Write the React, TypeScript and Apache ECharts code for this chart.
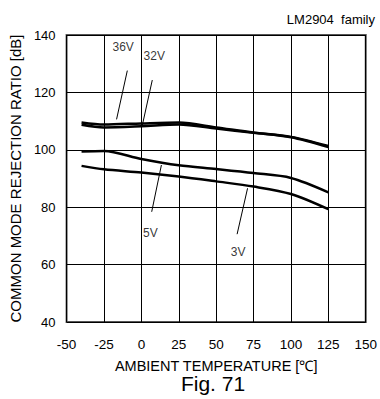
import React, { useEffect, useRef } from "react";
import * as echarts from "echarts";

const temps = [-40, -25, 0, 25, 50, 75, 100, 125];
const v36 = [109.5, 108.8, 109.2, 109.5, 107.8, 106.0, 104.5, 101.3];
const v32 = [108.7, 107.8, 108.2, 108.8, 107.4, 105.9, 104.4, 101.0];
const v5 = [99.4, 99.6, 96.8, 94.6, 93.3, 91.9, 90.2, 85.2];
const v3 = [94.4, 93.2, 92.1, 90.7, 89.0, 87.2, 84.6, 79.3];

const labelNames = ["36V", "32V", "5V", "3V"];
const labelPos: [number, number][] = [
  [-12.2, 135.9],
  [8.6, 132.7],
  [6.0, 70.9],
  [64.7, 64.3],
];
const leaders: [number, number][][] = [
  [[-9.4, 127.6], [-16.6, 110.6]],
  [[7.3, 124.3], [0.4, 108.0]],
  [[13.4, 94.7], [6.9, 78.4]],
  [[71.0, 86.6], [64.0, 70.6]],
];

const xTicks = { min: -50, max: 150, interval: 25 };
const yTicks = { min: 40, max: 140, interval: 20 };

const FONT = "'Liberation Sans', Arial, sans-serif";

export default function App() {
  const ref = useRef<HTMLDivElement>(null);
  useEffect(() => {
    if (!ref.current) return;
    const chart = echarts.init(ref.current, null, { renderer: "svg" });
    const curve = (vals: number[]) => ({
      type: "line",
      data: temps.map((t, i) => [t, vals[i]]),
      smooth: 0.3,
      symbol: "none",
      lineStyle: { color: "#000", width: 2.5 },
      z: 3,
    });
    const leaderSeries = leaders.map((pts) => ({
      type: "line",
      data: pts,
      symbol: "none",
      lineStyle: { color: "#000", width: 1 },
      z: 3,
    }));
    chart.setOption({
      animation: false,
      textStyle: { fontFamily: FONT },
      title: [
        {
          text: "LM2904  family",
          right: 0,
          top: 8,
          textStyle: { fontSize: 13, fontWeight: "normal", color: "#000", fontFamily: FONT },
        },
        {
          text: "Fig. 71",
          left: 208,
          textAlign: "center",
          top: 368,
          textStyle: { fontSize: 21, fontWeight: "normal", color: "#000", fontFamily: FONT },
        },
      ],
      grid: {
        left: 66,
        right: 7,
        top: 35,
        bottom: 77,
        show: true,
        borderColor: "#555",
        borderWidth: 2,
      },
      xAxis: {
        type: "value",
        ...xTicks,
        name: "AMBIENT TEMPERATURE [\u2103]",
        nameLocation: "middle",
        nameGap: 36,
        nameTextStyle: { fontSize: 14.5, color: "#000", fontFamily: FONT },
        axisLine: { show: false },
        axisTick: { show: false },
        axisLabel: { fontSize: 13.5, color: "#000", margin: 15, fontFamily: FONT },
        splitLine: { lineStyle: { color: "#000", width: 1 } },
      },
      yAxis: {
        type: "value",
        ...yTicks,
        name: "COMMON MODE REJECTION RATIO [dB]",
        nameLocation: "middle",
        nameGap: 43,
        nameTextStyle: { fontSize: 15, color: "#000", fontFamily: FONT },
        axisLine: { show: false },
        axisTick: { show: false },
        axisLabel: { fontSize: 13, color: "#000", margin: 11, fontFamily: FONT },
        splitLine: { lineStyle: { color: "#000", width: 1 } },
      },
      series: [
        curve(v36),
        curve(v32),
        curve(v5),
        curve(v3),
        ...leaderSeries,
        {
          type: "scatter",
          symbolSize: 0,
          data: labelPos.map((p, i) => ({ value: p, name: labelNames[i] })),
          label: {
            show: true,
            position: "inside",
            formatter: (p: any) => p.name,
            fontSize: 12,
            color: "#000",
            fontFamily: FONT,
          },
          z: 4,
        },
      ],
    });
    return () => chart.dispose();
  }, []);
  return (
    <div
      ref={ref}
      style={{ position: "fixed", left: 0, top: 0, width: 380, height: 399, background: "#fff" }}
    />
  );
}
